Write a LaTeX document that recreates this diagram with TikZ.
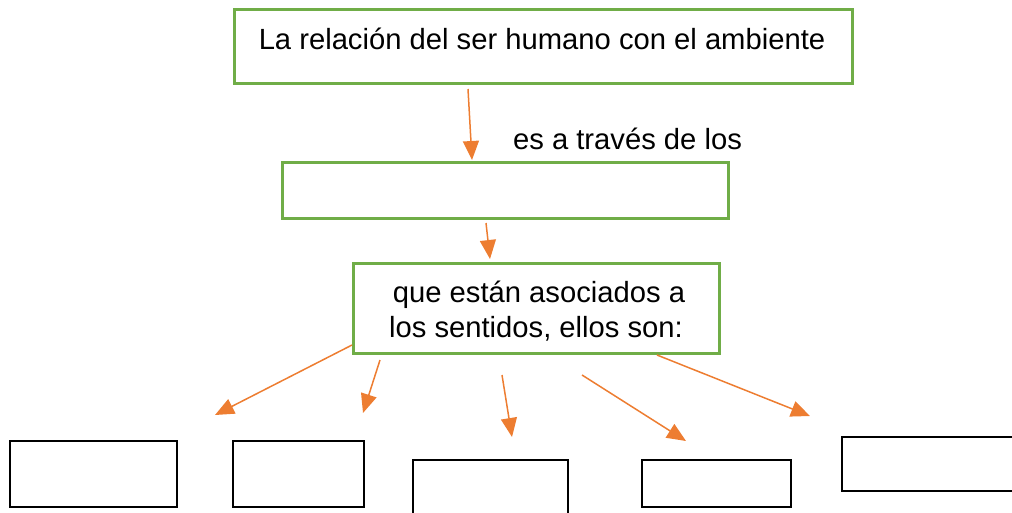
\documentclass[tikz,border=0pt]{standalone}
\usepackage{fontspec}
\setmainfont{Liberation Sans}
\usetikzlibrary{arrows.meta}
\definecolor{boxgreen}{HTML}{70AD47}
\definecolor{arrorange}{HTML}{ED7D31}
\tikzset{
  greenbox/.style={draw=boxgreen, line width=3pt},
  blackbox/.style={draw=black, line width=2.5pt},
  link/.style={draw=arrorange, line width=1.5pt, -{Triangle[length=19pt,width=16pt]}},
  lbl/.style={inner sep=0pt, anchor=base, font=\fontsize{29.2}{35}\selectfont}
}
\begin{document}
\begin{tikzpicture}[x=1pt,y=-1pt]
\useasboundingbox (0,0) rectangle (1012,512);
% green boxes
\draw[greenbox] (234,9) rectangle (852,83);
\draw[greenbox] (282,162) rectangle (728,218);
\draw[greenbox] (353,263) rectangle (719,353);
% texts
\node[lbl] (ttop) at (542,49) {La relación del ser humano con el ambiente};
\node[lbl] (tvia) at (627.5,149) {es a través de los};
\node[lbl] (tq1) at (539,302) {que están asociados a};
\node[lbl] (tq2) at (536,337) {los sentidos, ellos son:};
% black boxes
\draw[blackbox] (10,441) rectangle (177,507);
\draw[blackbox] (233,441) rectangle (364,507);
\draw[blackbox] (413,460) rectangle (568,530);
\draw[blackbox] (642,460) rectangle (791,507);
\draw[blackbox] (842,437) rectangle (1030,491);
% arrow endpoints
\coordinate (a1s) at (468,89);  \coordinate (a1e) at (472,160);
\coordinate (a2s) at (486,223); \coordinate (a2e) at (490,259);
\coordinate (aAs) at (352,345); \coordinate (aAe) at (215,415);
\coordinate (aBs) at (380,360); \coordinate (aBe) at (363,413);
\coordinate (aCs) at (502,375); \coordinate (aCe) at (512,437);
\coordinate (aDs) at (582,375); \coordinate (aDe) at (686,441);
\coordinate (aEs) at (657,355); \coordinate (aEe) at (810,416);
\draw[link] (a1s) -- (a1e);
\draw[link] (a2s) -- (a2e);
\draw[link] (aAs) -- (aAe);
\draw[link] (aBs) -- (aBe);
\draw[link] (aCs) -- (aCe);
\draw[link] (aDs) -- (aDe);
\draw[link] (aEs) -- (aEe);
\end{tikzpicture}
\end{document}
